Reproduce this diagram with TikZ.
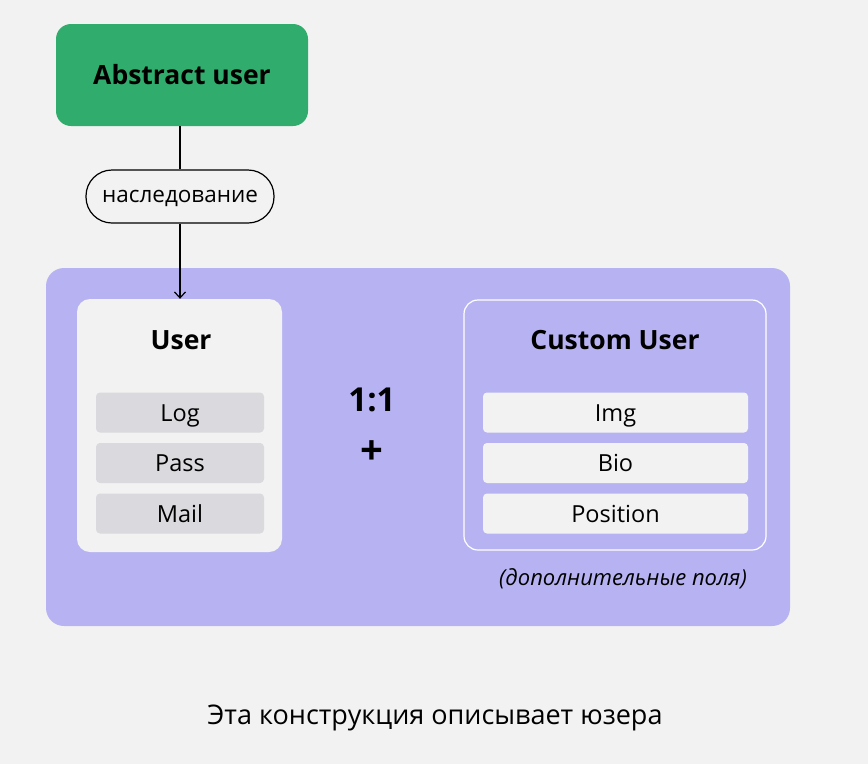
\documentclass[tikz,border=0pt]{standalone}
\usepackage{fontspec}
\setmainfont{Open Sans}
\usetikzlibrary{arrows.meta}
\definecolor{bg}{HTML}{F2F2F2}
\definecolor{grn}{HTML}{30AC6C}
\definecolor{purp}{HTML}{B7B3F3}
\definecolor{fld}{HTML}{D9D9DE}
\tikzset{
  fieldbox/.style={rounded corners=4pt, inner sep=0pt, minimum width=168pt, minimum height=40pt, text height=17pt, text depth=0pt, font=\fontsize{23.5}{26}\selectfont},
  cfieldbox/.style={fieldbox, fill=bg, minimum width=265pt},
  ufieldbox/.style={fieldbox, fill=fld},
  title/.style={font=\fontsize{26.5}{30}\selectfont\bfseries},
}
\begin{document}
\begin{tikzpicture}[x=1pt,y=-1pt]
\useasboundingbox[fill=bg] (0,0) rectangle (868,764);
% green box
\node[fill=grn, rounded corners=15pt, minimum width=252pt, minimum height=102pt, font=\fontsize{26.5}{30}\selectfont\bfseries] (abs) at (182,75) {Abstract user};
% purple box
\node[fill=purp, rounded corners=18pt, minimum width=744pt, minimum height=358pt] (big) at (418,447) {};
% pill
\node[draw, line width=1.2pt, fill=bg, rounded corners=26pt, minimum width=188pt, minimum height=53pt, text height=12pt, text depth=0pt, font=\fontsize{22.5}{26}\selectfont] (pill) at (180,196.5) {наследование};
% user box
\node[fill=bg, rounded corners=13pt, minimum width=205pt, minimum height=253pt] (user) at (179.5,425.5) {};
\node[title] (utitle) at (181,340) {User};
\node[ufieldbox] (log) at (180,412.5) {Log};
\node[ufieldbox] (pass) at (180,463) {Pass};
\node[ufieldbox] (mail) at (180,513.5) {Mail};
% custom user
\node[draw=white, line width=1.2pt, rounded corners=14pt, minimum width=302pt, minimum height=250pt] (cust) at (615,425) {};
\node[title] (ctitle) at (615,340) {Custom User};
\node[cfieldbox] (img) at (615.5,412.5) {Img};
\node[cfieldbox] (bio) at (615.5,463) {Bio};
\node[cfieldbox] (pos) at (615.5,513.5) {Position};
\node[font=\fontsize{22}{26}\selectfont\itshape] (extra) at (623,579) {(дополнительные поля)};
% middle
\node[font=\fontsize{33}{36}\selectfont\bfseries] (one) at (372,400) {1:1};
\node[font=\fontsize{40}{44}\selectfont\bfseries] (plus) at (372,453) {+};
% connectors
\draw[line width=1.2pt] (abs.south -| pill.north) -- (pill.north);
\draw[line width=1.2pt, -{Straight Barb[length=6pt, width=11pt, line width=1.2pt]}] (pill.south) -- (pill.south |- user.north);
% caption
\node[font=\fontsize{27}{30}\selectfont] (cap) at (435,718) {Эта конструкция описывает юзера};
\end{tikzpicture}
\end{document}
